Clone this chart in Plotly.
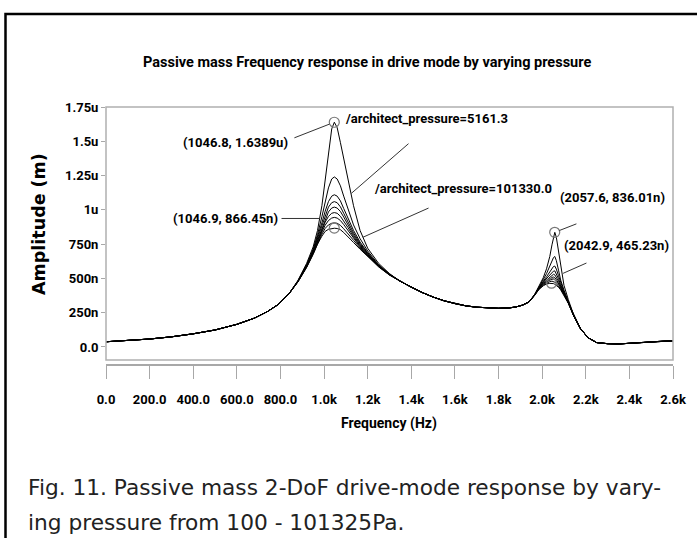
import plotly.graph_objects as go

# ---------------- data (amplitudes in nm) ----------------
base_lo_f = [0, 100, 200, 300, 400, 500, 600, 680, 740, 790, 840]
base_lo_a = [38, 46, 58, 74, 96, 124, 165, 210, 258, 310, 390]

peak1_f = [880, 920, 950, 970, 990, 1005, 1020, 1035, 1047, 1060, 1075, 1090, 1110, 1135, 1165, 1200, 1250, 1300]
peak1_a = [
    [485, 610, 730, 850, 1030, 1210, 1420, 1590, 1639, 1600, 1490, 1380, 1220, 1030, 850, 720, 610, 535],
    [482, 600, 715, 820, 950, 1060, 1160, 1225, 1240, 1225, 1175, 1100, 1000, 890, 790, 700, 600, 532],
    [480, 595, 705, 800, 905, 990, 1060, 1100, 1110, 1100, 1065, 1010, 935, 850, 765, 688, 596, 530],
    [479, 592, 700, 790, 885, 960, 1020, 1052, 1060, 1052, 1022, 975, 910, 832, 755, 683, 594, 529],
    [478, 590, 695, 782, 868, 935, 985, 1013, 1020, 1013, 988, 948, 890, 818, 746, 678, 592, 528],
    [477, 588, 690, 773, 852, 910, 952, 975, 980, 975, 953, 920, 870, 805, 738, 673, 590, 527],
    [476, 585, 685, 765, 838, 888, 922, 940, 945, 940, 922, 893, 850, 792, 730, 668, 588, 526],
    [475, 582, 680, 757, 823, 865, 890, 902, 905, 902, 887, 862, 828, 778, 722, 663, 586, 525],
    [474, 580, 675, 750, 808, 843, 858, 864, 866, 864, 855, 835, 805, 762, 713, 658, 584, 524],
]

mid_f = [1350, 1400, 1450, 1500, 1550, 1600, 1650, 1700, 1750, 1800, 1850, 1880]
mid_a = [478, 435, 397, 364, 337, 316, 300, 290, 284, 282, 285, 292]

peak2_f = [1910, 1940, 1965, 1985, 2005, 2020, 2035, 2045, 2052, 2058, 2065, 2075, 2085, 2100, 2120, 2145, 2175, 2210]
peak2_a = [
    [305, 330, 381, 440, 505, 570, 660, 745, 810, 836, 800, 690, 580, 450, 345, 232, 137, 68],
    [305, 330, 380, 437, 490, 535, 590, 630, 652, 660, 630, 560, 488, 415, 333, 229, 136, 68],
    [305, 329, 379, 434, 480, 512, 550, 575, 587, 590, 568, 520, 466, 404, 329, 228, 136, 68],
    [305, 329, 379, 432, 474, 500, 528, 545, 553, 555, 535, 498, 454, 398, 327, 228, 135, 68],
    [305, 329, 378, 430, 468, 490, 512, 524, 530, 526, 510, 481, 444, 393, 325, 227, 135, 68],
    [305, 329, 378, 428, 463, 482, 499, 507, 510, 505, 492, 468, 436, 389, 323, 227, 135, 68],
    [305, 328, 377, 425, 458, 474, 487, 494, 495, 490, 479, 458, 430, 386, 322, 226, 135, 68],
    [305, 328, 376, 422, 452, 466, 476, 480, 478, 472, 463, 446, 422, 382, 320, 226, 135, 68],
    [305, 328, 375, 418, 446, 459, 464, 465, 462, 457, 450, 436, 416, 378, 318, 225, 135, 68],
]

tail_f = [2250, 2300, 2350, 2400, 2450, 2500, 2550, 2600]
tail_a = [32, 24, 22, 27, 33, 38, 42, 45]

marker_f = [1046.8, 1046.9, 2057.6, 2042.9]
marker_a = [1638.9, 866.45, 836.01, 465.23]
marker_txt = ["(1046.8, 1.6389u)", "(1046.9, 866.45n)", "(2057.6, 836.01n)", "(2042.9, 465.23n)"]

x_tickvals = [0, 200, 400, 600, 800, 1000, 1200, 1400, 1600, 1800, 2000, 2200, 2400, 2600]
x_ticktext = ["0.0", "200.0", "400.0", "600.0", "800.0", "1.0k", "1.2k", "1.4k", "1.6k",
              "1.8k", "2.0k", "2.2k", "2.4k", "2.6k"]
y_tickvals = [0, 250, 500, 750, 1000, 1250, 1500, 1750]
y_ticktext = ["0.0", "250n", "500n", "750n", "1u", "1.25u", "1.5u", "1.75u"]

NARROW = "Roboto, Liberation Sans, sans-serif"

fig = go.Figure()
freq = base_lo_f + peak1_f + mid_f + peak2_f + tail_f
for i in range(len(peak1_a)):
    amp = base_lo_a + peak1_a[i] + mid_a + peak2_a[i] + tail_a
    fig.add_trace(go.Scatter(x=freq, y=amp, mode="lines",
                             line=dict(color="black", width=1), hoverinfo="skip",
                             showlegend=False))

fig.add_trace(go.Scatter(x=marker_f, y=marker_a, mode="markers",
                         marker=dict(symbol="circle-open", size=10, color="#777",
                                     line=dict(width=1.2, color="#777")),
                         showlegend=False, cliponaxis=False))

W, H = 697, 538
x0px, x1px = 106, 673
ytop, ybot = 107, 360
fig.update_layout(
    width=W, height=H, margin=dict(l=0, r=0, t=0, b=0, autoexpand=False),
    paper_bgcolor="white", plot_bgcolor="white",
    xaxis=dict(domain=[x0px / W, x1px / W], range=[0, 2600], automargin=False,
               anchor="free", position=(H - 365) / H,
               showgrid=False, zeroline=False, showline=True,
               linecolor="#a8a8a8", linewidth=1.5,
               ticks="outside", ticklen=13, tickwidth=1, tickcolor="#a8a8a8",
               tickvals=x_tickvals, ticktext=x_ticktext, ticklabelstandoff=10,
               tickangle=0,
               tickfont=dict(family=NARROW, size=13, color="black", weight="bold")),
    yaxis=dict(domain=[(H - ybot) / H, (H - ytop) / H], range=[-95, 1750], automargin=False,
               showgrid=False, zeroline=False, showline=False,
               ticks="outside", ticklen=4, tickcolor="#a8a8a8",
               tickvals=y_tickvals, ticktext=y_ticktext,
               tickfont=dict(family=NARROW, size=13, color="black", weight="bold")),
)

# plot frame and outer figure frame
fig.add_shape(type="rect", xref="x domain", yref="y domain", x0=0, x1=1, y0=0, y1=1,
              line=dict(color="#b0b0b0", width=1.5))
fig.add_shape(type="rect", xref="paper", yref="paper", x0=5.5 / W, x1=1.02,
              y0=-0.02, y1=(H - 14) / H, line=dict(color="black", width=2.5))

ann = []
# title / axis titles
ann.append(dict(text="Passive mass Frequency response in drive mode by varying pressure",
                xref="paper", yref="paper", x=367 / W, y=(H - 62) / H, showarrow=False,
                xanchor="center", yanchor="middle",
                font=dict(family=NARROW, size=14.5, color="black", weight="bold")))
ann.append(dict(text="Frequency (Hz)", xref="paper", yref="paper", x=389 / W,
                y=(H - 423) / H, showarrow=False, xanchor="center", yanchor="middle",
                font=dict(family=NARROW, size=14, color="black", weight="bold")))
ann.append(dict(text="Amplitude (m)", xref="paper", yref="paper", x=39 / W,
                y=(H - 224) / H, showarrow=False, textangle=-90,
                xanchor="center", yanchor="middle",
                font=dict(family="DejaVu Sans, sans-serif", size=17.5,
                          color="black", weight="bold")))
# caption
cap_font = dict(family="DejaVu Sans, sans-serif", size=21.7, color="#222")
ann.append(dict(text="Fig. 11. Passive mass 2-DoF drive-mode response by vary-",
                xref="paper", yref="paper", x=26 / W, y=(H - 487) / H,
                xanchor="left", yanchor="middle",
                showarrow=False, font=cap_font))
ann.append(dict(text="ing pressure from 100 - 101325Pa.",
                xref="paper", yref="paper", x=26 / W, y=(H - 522) / H,
                xanchor="left", yanchor="middle",
                showarrow=False, font=cap_font))

lab_font = dict(family=NARROW, size=13, color="black", weight="bold")
# marker labels (data coords)
def label(text, x, y, xanchor="center"):
    return dict(text=text, x=x, y=y, xref="x", yref="y", xanchor=xanchor, yanchor="middle",
                showarrow=False, font=lab_font)

ann.append(label(marker_txt[0], 596, 1492))
ann.append(label(marker_txt[1], 550, 938))
ann.append(label(marker_txt[2], 2073, 1091, "left"))
ann.append(label(marker_txt[3], 2091, 741, "left"))
ann.append(label("/architect_pressure=5161.3", 1087, 1666, "left"))
ann.append(label("/architect_pressure=101330.0", 1220, 1157, "left"))

# pointer lines
def pointer(x, y, ax, ay, standoff=0):
    return dict(text="", x=x, y=y, ax=ax, ay=ay, xref="x", yref="y", axref="x", ayref="y",
                showarrow=True, arrowhead=0, arrowwidth=1, arrowcolor="#333", standoff=standoff)

ann.append(pointer(marker_f[0], marker_a[0], 857, 1521, standoff=5))
ann.append(pointer(981, 937, 798, 937))
ann.append(pointer(marker_f[2], marker_a[2], 2164, 902, standoff=5))
ann.append(pointer(2096, 537, 2210, 617))
ann.append(pointer(1125, 1120, 1394, 1492))
ann.append(pointer(1178, 800, 1486, 1018))

fig.update_layout(annotations=ann)
fig.write_html("out.html")
